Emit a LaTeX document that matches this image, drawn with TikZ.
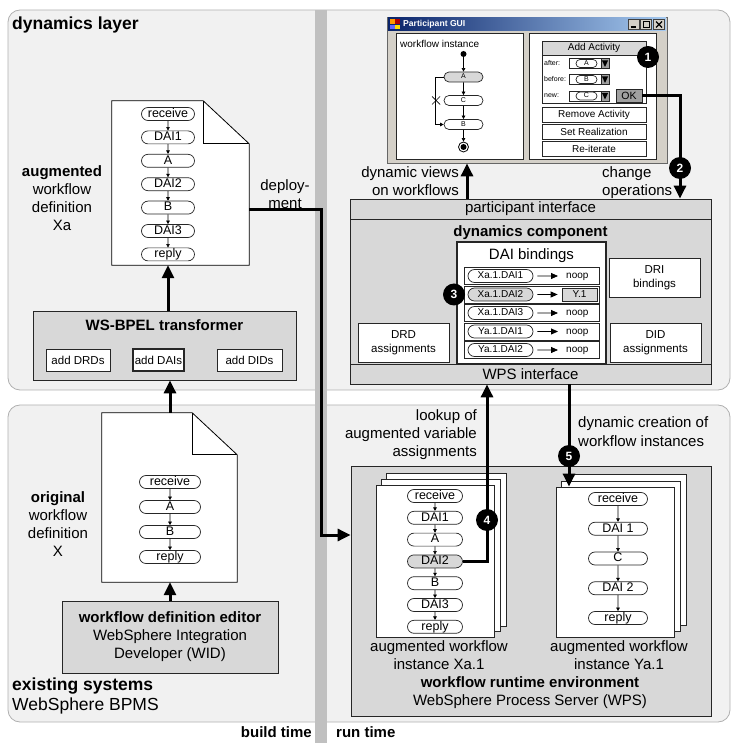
\documentclass[tikz,border=0pt]{standalone}
\usepackage{fontspec}
\setmainfont{Liberation Sans}
\usetikzlibrary{arrows.meta,calc,shapes.misc}
\newcommand\szBig{\fontsize{17.5}{20}\selectfont}
\newcommand\szMid{\fontsize{15}{18}\selectfont}
\newcommand\szPill{\fontsize{12.5}{14}\selectfont}
\newcommand\szBox{\fontsize{11.5}{14}\selectfont}
\newcommand\szRow{\fontsize{10}{12}\selectfont}
\newcommand\szTiny{\fontsize{7}{8}\selectfont}
\definecolor{panelfill}{HTML}{F1F1F1}
\definecolor{panelline}{HTML}{B0B0B0}
\definecolor{boxfill}{HTML}{D8D8D8}
\definecolor{barfill}{HTML}{C0C0C0}
\definecolor{winfill}{HTML}{D4D0C8}
\definecolor{titleA}{HTML}{0A246A}
\definecolor{titleB}{HTML}{A6CAF0}
\definecolor{okfill}{HTML}{A0A0A0}
\newcommand\docshape[3]{%
  \draw[line width=0.8pt, fill=white] (#1.north west) -- ($(#1.north east)+(-#2,0)$) -- ($(#1.north east)+(0,#3)$) -- (#1.south east) -- (#1.south west) -- cycle;
  \draw[line width=0.8pt] ($(#1.north east)+(-#2,0)$) -- ($(#1.north east)+(-#2,#3)$) -- ($(#1.north east)+(0,#3)$);
}
\tikzset{
  panel/.style={draw=panelline, fill=panelfill, line width=0.8pt, rounded corners=12pt},
  graybox/.style={draw=black!85, fill=boxfill, line width=0.8pt, inner sep=0, rectangle},
  whitebox/.style={draw=black!85, fill=white, line width=0.8pt, inner sep=0, rectangle},
  pill/.style={draw=black!85, fill=white, rounded rectangle, minimum height=13pt, inner sep=0, font=\szPill, line width=0.7pt, text height=9pt, text depth=2.5pt},
  rowpill/.style={pill, font=\szRow, text height=7.3pt, text depth=2pt},
  guipill/.style={pill, font=\szTiny, minimum height=10pt, text height=5pt, text depth=1.5pt},
  bigarr/.style={line width=3pt, -{Triangle[width=12pt,length=13pt]}},
  smallarr/.style={line width=0.6pt, -{Triangle[width=3.5pt,length=3.5pt]}},
  rowarr/.style={line width=0.8pt, -{Triangle[width=6pt,length=7pt]}, shorten <=4pt, shorten >=4pt},
  marker/.style={circle, fill=black, text=white, font=\fontsize{12}{12}\selectfont\bfseries, minimum size=22pt, inner sep=0},
  lbl/.style={font=\szMid, inner sep=0, align=center},
}
\begin{document}
\begin{tikzpicture}[x=1pt,y=-1pt]
\useasboundingbox (0,0) rectangle (745,743);
% ---------- panels and time bar
\draw[panel] (8,10) rectangle (730,390);
\draw[panel] (8,405) rectangle (730,722);
\fill[barfill] (315,10) rectangle (327,743);
\node[lbl, font=\szBig\bfseries, anchor=west] (tDynLayer) at (12,25) {dynamics layer};
\node[lbl, font=\szBig, anchor=west, align=left] (tExist) at (12,696) {{\bfseries existing systems}\\WebSphere BPMS};
\node[lbl, font=\szMid\bfseries, anchor=east] (tBuild) at (312,732) {build time};
\node[lbl, font=\szMid\bfseries, anchor=west] (tRun) at (336,732) {run time};

% ---------- augmented workflow definition Xa
\node[minimum width=137pt, minimum height=164pt, inner sep=0] (docXa) at (180.5,183) {};
\docshape{docXa}{46}{43}
\foreach \n/\lab/\y in {1/receive/114, 2/DAI1/137.4, 3/A/160.8, 4/DAI2/184.2, 5/B/207.6, 6/DAI3/231, 7/reply/254.4}
  \node[pill, minimum width=53pt] (xa\n) at (168,\y) {\lab};
\foreach \a/\b in {1/2,2/3,3/4,4/5,5/6,6/7}
  \draw[smallarr] (xa\a) -- (xa\b);
\node[lbl] (tAug) at (62,198) {{\bfseries augmented}\\workflow\\definition\\Xa};
\node[lbl] (tDeploy) at (285,194) {deploy-\\ment};

% ---------- WS-BPEL transformer
\node[graybox, minimum width=263pt, minimum height=69pt] (trans) at (164.5,345.5) {};
\node[lbl, font=\szMid\bfseries] (transT) at (164.5,325) {WS-BPEL transformer};
\node[whitebox, minimum width=64pt, minimum height=22pt, font=\szBox] (addDRD) at (78,360) {add DRDs};
\node[whitebox, line width=2.5pt, minimum width=51pt, minimum height=22pt, font=\szBox] (addDAI) at (158.5,360) {add DAIs};
\node[whitebox, minimum width=65pt, minimum height=22pt, font=\szBox] (addDID) at (249.5,360) {add DIDs};

% ---------- original workflow definition X
\node[minimum width=135pt, minimum height=169pt, inner sep=0] (docX) at (169.5,497.5) {};
\docshape{docX}{45}{42}
\foreach \n/\lab/\y in {1/receive/482, 2/A/507, 3/B/532, 4/reply/557}
  \node[pill, minimum width=61pt] (xo\n) at (170,\y) {\lab};
\foreach \a/\b in {1/2,2/3,3/4}
  \draw[smallarr] (xo\a) -- (xo\b);
\node[lbl] (tOrig) at (58,524.5) {{\bfseries original}\\workflow\\definition\\X};
\node[graybox, minimum width=216pt, minimum height=72pt, font=\szMid, align=center] (edt) at (170,637) {{\bfseries workflow definition editor}\\WebSphere Integration\\Developer (WID)};

% ---------- Participant GUI
\node[draw=black!60, fill=winfill, minimum width=280pt, minimum height=146pt, inner sep=0, line width=0.8pt] (gui) at (527,90) {};
\shade[left color=titleA, right color=titleB] (388,18) rectangle (666,31);
\fill[orange!80!yellow] (389.5,19.5) rectangle (394.5,24.5);
\fill[red!70!black] (395,19.5) rectangle (400,24.5);
\fill[blue!60] (389.5,25) rectangle (394.5,29.5);
\fill[yellow!80!orange] (395,25) rectangle (400,29.5);
\node[anchor=west, text=white, font=\fontsize{8.6}{9}\selectfont\bfseries, inner sep=0] (guiTitle) at (403,24.5) {Participant GUI};
\node[draw=black!75, fill=winfill, minimum width=11pt, minimum height=9.5pt, inner sep=0, line width=0.6pt] (bMin) at (633.5,24.5) {};
\node[draw=black!75, fill=winfill, minimum width=11pt, minimum height=9.5pt, inner sep=0, line width=0.6pt] (bMax) at (646,24.5) {};
\node[draw=black!75, fill=winfill, minimum width=11pt, minimum height=9.5pt, inner sep=0, line width=0.6pt] (bCls) at (659,24.5) {};
\draw[line width=1.3pt] ([xshift=-3pt,yshift=-2.5pt]bMin.center) -- ([xshift=2pt,yshift=-2.5pt]bMin.center);
\draw[line width=0.6pt] ([xshift=-3pt,yshift=3pt]bMax.center) rectangle ([xshift=3pt,yshift=-3pt]bMax.center);
\draw[line width=1.2pt] ([xshift=-3pt,yshift=3pt]bMax.center) -- ([xshift=3pt,yshift=3pt]bMax.center);
\draw[line width=1.1pt] ([xshift=-3pt,yshift=3pt]bCls.center) -- ([xshift=3pt,yshift=-3pt]bCls.center)
  ([xshift=-3pt,yshift=-3pt]bCls.center) -- ([xshift=3pt,yshift=3pt]bCls.center);
\node[whitebox, minimum width=127pt, minimum height=126pt] (guiL) at (459.5,96) {};
\node[whitebox, minimum width=127pt, minimum height=126pt] (guiR) at (592.5,96) {};
\node[anchor=west, inner sep=0, font=\szRow] (wfInst) at (400,44) {workflow instance};
\node[circle, fill=black, minimum size=6pt, inner sep=0] (gStart) at (463.5,54) {};
\node[guipill, fill=boxfill, minimum width=39pt] (gA) at (463.5,77) {A};
\node[guipill, minimum width=39pt] (gC) at (463.5,100.5) {C};
\node[guipill, minimum width=39pt] (gB) at (463.5,124.5) {B};
\node[circle, draw, line width=0.8pt, minimum size=10pt, inner sep=0, fill=white] (gEnd) at (463.5,147) {};
\fill (gEnd.center) circle (3pt);
\draw[smallarr] (gStart) -- (gA);
\draw[smallarr] (gA) -- (gC);
\draw[smallarr] (gC) -- (gB);
\draw[smallarr] (gB) -- (gEnd);
\draw[smallarr] (gA.west) -- ++(-8,0) |- (gB.west);
\draw[line width=0.7pt] (432,96.5) -- (440,104.5) (432,104.5) -- (440,96.5);

\node[whitebox, minimum width=104pt, minimum height=62pt] (addGrp) at (594,72) {};
\node[graybox, minimum width=104pt, minimum height=14pt, font=\szRow] (addHdr) at (594,48) {Add Activity};
\foreach \lab/\v/\y/\nm in {after:/A/63.5/cbA, before:/B/79.5/cbB, new:/C/96/cbC} {
  \node[anchor=west, inner sep=0, font=\szTiny] (\nm-lab) at (544,\y) {\lab};
  \node[whitebox, minimum width=40pt, minimum height=10pt] (\nm) at (589,\y) {};
  \node[guipill, minimum width=21pt, minimum height=8pt] (\nm-pill) at (586.5,\y) {\v};
  \node[draw=black!85, fill=okfill, minimum width=8pt, minimum height=10pt, inner sep=0, line width=0.7pt] (\nm-dd) at (605,\y) {};
  \fill ([xshift=-3pt,yshift=3pt]\nm-dd.center) -- ([xshift=3pt,yshift=3pt]\nm-dd.center) -- ([yshift=-3.5pt]\nm-dd.center) -- cycle;
}
\node[draw=black!85, fill=okfill, minimum width=26pt, minimum height=13pt, inner sep=0, line width=0.8pt, font=\fontsize{10.5}{12}\selectfont] (okBtn) at (629,95.5) {OK};
\node[whitebox, minimum width=104pt, minimum height=15pt, font=\szRow] (remBtn) at (594,114.5) {Remove Activity};
\node[whitebox, minimum width=104pt, minimum height=15pt, font=\szRow] (setBtn) at (594,131.5) {Set Realization};
\node[whitebox, minimum width=104pt, minimum height=15pt, font=\szRow] (reBtn) at (594,148.5) {Re-iterate};
\node[marker] (mk1) at (648,57) {1};

% ---------- dynamics component
\node[graybox, minimum width=361pt, minimum height=185pt] (dynComp) at (530.5,291.5) {};
\node[graybox, minimum width=361pt, minimum height=20pt, font=\szMid] (pIface) at (530.5,209) {participant interface};
\node[graybox, minimum width=361pt, minimum height=20pt, font=\szMid] (wIface) at (530.5,374) {WPS interface};
\node[lbl, font=\szMid\bfseries] (tDynComp) at (530.5,233) {dynamics component};
\node[whitebox, line width=2.5pt, minimum width=149pt, minimum height=122pt] (daiB) at (531.5,303) {};
\node[lbl] (tDaiB) at (531.5,256) {DAI bindings};
\foreach \n/\lab/\y/\fc in {1/Xa.1.DAI1/276/white, 2/Xa.1.DAI2/294.5/boxfill, 3/Xa.1.DAI3/313/white, 4/Ya.1.DAI1/331.5/white, 5/Ya.1.DAI2/350/white} {
  \node[whitebox, line width=0.7pt, minimum width=135pt, minimum height=17pt] (row\n) at (531.5,\y) {};
  \node[rowpill, fill=\fc, minimum width=65pt] (rp\n) at (500.5,\y) {\lab};
}
\foreach \n/\y in {1/276, 3/313, 4/331.5, 5/350} {
  \node[anchor=west, inner sep=4pt, font=\szRow, text height=7.3pt, text depth=2pt] (tg\n) at (562,\y) {noop};
  \draw[rowarr] (rp\n) -- (tg\n);
}
\node[graybox, line width=0.7pt, minimum width=35pt, minimum height=13pt, font=\szRow] (tg2) at (579.5,294.5) {Y.1};
\draw[rowarr] (rp2) -- (tg2);
\node[marker] (mk3) at (454,294.5) {3};
\node[whitebox, minimum width=91pt, minimum height=39pt, font=\szBox, align=center] (dri) at (654.5,277.5) {DRI\\bindings};
\node[whitebox, minimum width=91pt, minimum height=39pt, font=\szBox, align=center] (drd) at (403.5,342.5) {DRD\\assignments};
\node[whitebox, minimum width=91pt, minimum height=39pt, font=\szBox, align=center] (did) at (655.5,342.5) {DID\\assignments};

% ---------- workflow runtime environment
\node[graybox, minimum width=360pt, minimum height=250pt] (wre) at (531,591) {};
\node[whitebox, minimum width=120pt, minimum height=153pt] (xaP3) at (446,549.5) {};
\node[whitebox, minimum width=119pt, minimum height=152pt] (xaP2) at (440.5,555) {};
\node[whitebox, minimum width=118pt, minimum height=152pt] (xaDoc) at (435,561) {};
\foreach \n/\lab/\y/\fc in {1/receive/496/white, 2/DAI1/517.8/white, 3/A/539.6/white, 4/DAI2/561.4/boxfill, 5/B/583.2/white, 6/DAI3/605/white, 7/reply/626.8/white}
  \node[pill, fill=\fc, minimum width=55pt] (ra\n) at (435,\y) {\lab};
\foreach \a/\b in {1/2,2/3,3/4,4/5,5/6,6/7}
  \draw[smallarr] (ra\a) -- (ra\b);
\node[whitebox, minimum width=119pt, minimum height=151pt] (yaP3) at (626.5,549.5) {};
\node[whitebox, minimum width=119pt, minimum height=150pt] (yaP2) at (620.5,556) {};
\node[whitebox, minimum width=118pt, minimum height=150pt] (yaDoc) at (615,562) {};
\foreach \n/\lab/\y in {1/receive/499, 2/DAI 1/528.75, 3/C/558.5, 4/DAI 2/588.25, 5/reply/618}
  \node[pill, minimum width=59pt] (ry\n) at (618,\y) {\lab};
\foreach \a/\b in {1/2,2/3,3/4,4/5}
  \draw[smallarr] (ry\a) -- (ry\b);
\node[lbl] (tXa1) at (439,655) {augmented workflow\\instance Xa.1};
\node[lbl] (tYa1) at (619,655) {augmented workflow\\instance Ya.1};
\node[lbl] (tWre) at (530,693) {{\bfseries workflow runtime environment}\\WebSphere Process Server (WPS)};

% ---------- labels of the connectors
\node[lbl, anchor=east, align=right] (tDynViews) at (459,181.5) {dynamic views\\on workflows};
\node[lbl, anchor=west, align=left] (tChange) at (602,183) {change\\operations};
\node[lbl, anchor=east, align=right] (tLookup) at (477,435) {lookup of\\augmented variable\\assignments};
\node[lbl, anchor=west, align=left, font=\fontsize{15}{19}\selectfont] (tCreate) at (578,431.5) {dynamic creation of\\workflow instances};

% ---------- connectors
\draw[bigarr] (trans.north -| xa7) -- (docXa.south -| xa7);
\draw[bigarr] (docX.north -| xo1) -- (trans.south -| xo1);
\draw[bigarr] (edt.north) -- (docX.south -| edt.north);
\coordinate (depX) at (321,300);
\draw[bigarr] ([yshift=-27pt]docXa.east) -| (depX) |- ([yshift=56pt]wre.west);
\coordinate (dvX) at (467,180);
\draw[bigarr] (pIface.north -| dvX) -- (gui.south -| dvX);
\coordinate (mk2pos) at (680,168);
\draw[bigarr] (okBtn.east) -| (pIface.north -| mk2pos);
\node[marker] (mk2) at (mk2pos) {2};
\coordinate (mk4pos) at (487,520);
\draw[bigarr] (ra4.east) -| (wIface.south -| mk4pos);
\node[marker] (mk4) at (mk4pos) {4};
\coordinate (mk5pos) at (569,456);
\draw[bigarr] (wIface.south -| mk5pos) -- (yaDoc.north -| mk5pos);
\node[marker] (mk5) at (mk5pos) {5};
\end{tikzpicture}
\end{document}
